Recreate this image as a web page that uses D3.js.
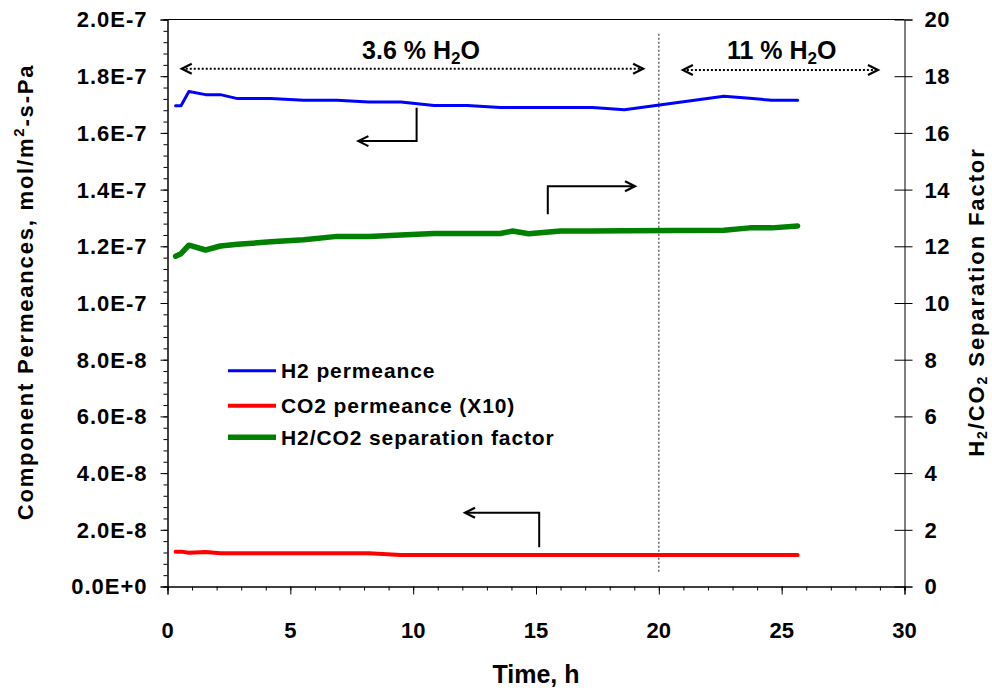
<!DOCTYPE html>
<html><head><meta charset="utf-8">
<script src="https://cdn.jsdelivr.net/npm/d3@7"></script>
<style>
html,body{margin:0;padding:0;background:#fff;}
svg{display:block;font-family:"Liberation Sans",Arial,sans-serif;font-weight:bold;}
</style></head>
<body><svg id="c" width="992" height="694"></svg>
<script>
// ---- data ----
const time = [0.33,0.55,0.87,1.55,2.15,2.85,4.2,5.55,6.9,8.2,9.5,10.85,12.2,13.55,14.05,14.7,16.0,17.3,18.6,22.65,23.7,24.6,25.65];
const h2Perm = [1.696e-7,1.696e-7,1.746e-7,1.735e-7,1.735e-7,1.721e-7,1.721e-7,1.715e-7,1.715e-7,1.709e-7,1.709e-7,1.697e-7,1.697e-7,1.690e-7,1.690e-7,1.690e-7,1.690e-7,1.690e-7,1.682e-7,1.729e-7,1.722e-7,1.715e-7,1.715e-7];
const co2PermX10 = [1.23e-8,1.23e-8,1.19e-8,1.22e-8,1.17e-8,1.17e-8,1.17e-8,1.17e-8,1.17e-8,1.17e-8,1.11e-8,1.11e-8,1.11e-8,1.11e-8,1.11e-8,1.11e-8,1.11e-8,1.11e-8,1.11e-8,1.11e-8,1.11e-8,1.11e-8,1.11e-8];
const sepFactor = [11.65,11.74,12.04,11.87,12.01,12.07,12.16,12.23,12.35,12.35,12.40,12.45,12.45,12.45,12.54,12.44,12.54,12.54,12.55,12.57,12.65,12.65,12.72];
const xTicks = [0,5,10,15,20,25,30];
const leftTicks = [0,2e-8,4e-8,6e-8,8e-8,1e-7,1.2e-7,1.4e-7,1.6e-7,1.8e-7,2e-7];
const leftTickLabels = ["0.0E+0","2.0E-8","4.0E-8","6.0E-8","8.0E-8","1.0E-7","1.2E-7","1.4E-7","1.6E-7","1.8E-7","2.0E-7"];
const rightTicks = [0,2,4,6,8,10,12,14,16,18,20];
const seriesNames = ["H2 permeance","CO2 permeance (X10)","H2/CO2 separation factor"];
const seriesColors = ["#0000ff","#ff0000","#008000"];

// ---- layout ----
const L=167.5, R=904.5, T=19.5, B=586.5;
const svg = d3.select("#c");
const x = d3.scaleLinear([0,30],[L,R]);
const yL = d3.scaleLinear([0,2e-7],[B,T]);
const yR = d3.scaleLinear([0,20],[B,T]);

// frame
svg.append("line").attr("x1",L).attr("x2",R).attr("y1",T).attr("y2",T).attr("stroke","#000").attr("stroke-width",1);

// x axis
const gx = svg.append("g").attr("transform",`translate(0,${B})`);
gx.call(d3.axisBottom(x).tickValues(d3.range(0,31,1)).tickSize(4).tickFormat(""));
gx.call(g=>g.append("g").call(d3.axisBottom(x).tickValues(xTicks).tickSize(8).tickFormat("")));
gx.selectAll(".domain").attr("stroke","#000");
gx.selectAll("text").remove();
svg.append("g").selectAll("text").data(xTicks).join("text")
  .attr("x",d=>x(d)).attr("y",B+51).attr("text-anchor","middle")
  .attr("font-size",22).text(d=>d);

// left axis
const gl = svg.append("g").attr("transform",`translate(${L},0)`);
gl.call(d3.axisLeft(yL).tickValues(d3.range(0,51).map(i=>i*4e-9)).tickSize(4).tickFormat(""));
gl.append("g").call(d3.axisLeft(yL).tickValues(leftTicks).tickSize(7).tickFormat(""));
gl.selectAll(".domain").attr("stroke","#000");
svg.append("g").selectAll("text").data(leftTicks).join("text")
  .attr("x",L-20).attr("y",d=>yL(d)).attr("dy","0.36em").attr("text-anchor","end")
  .attr("font-size",22).attr("letter-spacing",1).text((d,i)=>leftTickLabels[i]);

// right axis
const gr = svg.append("g").attr("transform",`translate(${R},0)`);
gr.call(d3.axisRight(yR).tickValues(rightTicks).tickSize(8).tickFormat(""));
gr.selectAll(".tick line").attr("x1",-10);
gr.selectAll(".domain").attr("stroke","#000");
svg.append("g").selectAll("text").data(rightTicks).join("text")
  .attr("x",R+20).attr("y",d=>yR(d)).attr("dy","0.36em").attr("text-anchor","start")
  .attr("font-size",22).attr("letter-spacing",0.6).text(d=>d);

// axis titles
svg.append("text").attr("x",536).attr("y",683).attr("text-anchor","middle").attr("font-size",25).text("Time, h");
const lt = svg.append("text").attr("transform",`translate(33,292) rotate(-90)`).attr("text-anchor","middle")
  .attr("font-size",22).attr("letter-spacing",1.8);
lt.append("tspan").text("Component Permeances, mol/m");
lt.append("tspan").attr("font-size",15).attr("dy",-9).text("2");
lt.append("tspan").attr("dy",9).text("-s-Pa");
const rt = svg.append("text").attr("transform",`translate(984,302) rotate(-90)`).attr("text-anchor","middle")
  .attr("font-size",22).attr("letter-spacing",1.9);
rt.append("tspan").text("H");
rt.append("tspan").attr("font-size",14).attr("dy",3).text("2");
rt.append("tspan").attr("dy",-3).text("/CO");
rt.append("tspan").attr("font-size",14).attr("dy",3).text("2");
rt.append("tspan").attr("dy",-3).text(" Separation Factor");

// vertical dotted line at 20 h
svg.append("line").attr("x1",x(20)).attr("x2",x(20)).attr("y1",yL(1.95e-7)).attr("y2",yL(0.05e-7))
  .attr("stroke","#444").attr("stroke-width",1.2).attr("stroke-dasharray","2,2");

// data lines
const series = [
  {v:h2Perm, y:yL, w:3},
  {v:co2PermX10, y:yL, w:4},
  {v:sepFactor, y:yR, w:5.5}
];
series.forEach((s,k)=>{
  const line = d3.line().x((d,i)=>x(time[i])).y(d=>s.y(d));
  svg.append("path").datum(s.v).attr("d",line).attr("fill","none")
    .attr("stroke",seriesColors[k]).attr("stroke-width",s.w).attr("stroke-linejoin","round").attr("stroke-linecap","round");
});

// legend
const legY=[370.7,405.7,437.3];
seriesNames.forEach((n,k)=>{
  svg.append("line").attr("x1",228).attr("x2",276).attr("y1",legY[k]).attr("y2",legY[k])
    .attr("stroke",seriesColors[k]).attr("stroke-width",series[k].w);
  svg.append("text").attr("x",281).attr("y",legY[k]+7.5).attr("font-size",21).attr("letter-spacing",0.9).text(n);
});

// annotations
function chevron(tx,ty,dir){
  svg.append("path").attr("d",`M${tx-dir*10},${ty-5}L${tx},${ty}L${tx-dir*10},${ty+5}`)
    .attr("fill","none").attr("stroke","#000").attr("stroke-width",2.2);
}
function dottedArrow(t0,t1,v){
  const yy=yL(v);
  svg.append("line").attr("x1",x(t0)).attr("x2",x(t1)).attr("y1",yy).attr("y2",yy)
    .attr("stroke","#000").attr("stroke-width",2).attr("stroke-dasharray","2,2");
  chevron(x(t0),yy,-1); chevron(x(t1),yy,1);
}
dottedArrow(0.58,19.36,1.826e-7);
dottedArrow(20.98,28.92,1.822e-7);
function h2oLabel(t,pre){
  const tx = svg.append("text").attr("x",x(t)).attr("y",59).attr("text-anchor","middle").attr("font-size",25);
  tx.append("tspan").text(pre+"H");
  tx.append("tspan").attr("font-size",17).attr("dy",5).text("2");
  tx.append("tspan").attr("dy",-5).text("O");
}
h2oLabel(10.32,"3.6 % ");
h2oLabel(25.0,"11 % ");
function elbow(tv,v0,v1,th,ys){
  const px=x(tv), py0=ys(v0), py1=ys(v1), ph=x(th);
  svg.append("path").attr("d",`M${px},${py0}L${px},${py1}L${ph},${py1}`).attr("fill","none").attr("stroke","#000").attr("stroke-width",2);
  chevron(ph,py1,ph>px?1:-1);
}
elbow(10.14,1.689e-7,1.571e-7,7.77,yL);
elbow(15.48,13.13,14.12,19.03,yR);
elbow(15.13,1.386e-8,2.6e-8,12.11,yL);
</script></body></html>
